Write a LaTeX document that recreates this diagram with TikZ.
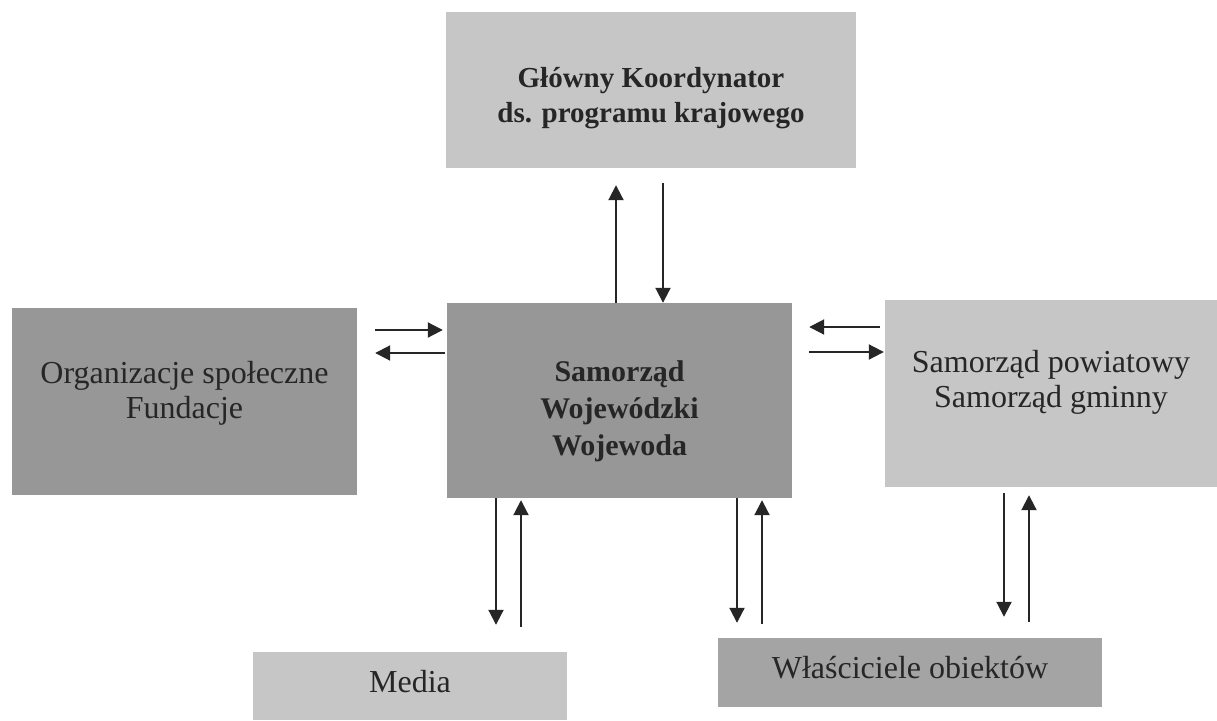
\documentclass[tikz,border=0pt]{standalone}
\usepackage{fontspec}
\setmainfont{Liberation Serif}
\usetikzlibrary{arrows.meta}
\definecolor{ink}{HTML}{262626}
\definecolor{darkbox}{HTML}{979797}
\definecolor{midbox}{HTML}{A4A4A4}
\definecolor{lightbox}{HTML}{C6C6C6}
\tikzset{
  box/.style={rectangle, draw=none, inner sep=0pt, align=center, text=ink,
    font=\fontsize{32}{35}\selectfont},
  boldbox/.style={box, font=\fontsize{30}{37}\selectfont\bfseries},
  arr/.style={draw=ink, line width=2pt, -{Triangle[length=15pt,width=15pt]}},
}
\begin{document}
\begin{tikzpicture}[x=1pt,y=1pt]
\fill[white] (0,0) rectangle (1217,-720);
\useasboundingbox (0,0) rectangle (1217,-720);

\node[boldbox, fill=lightbox, minimum width=410pt, minimum height=156pt,
  font=\fontsize{29}{35}\selectfont\bfseries, text height=64pt, text depth=0pt] (top) at (651,-90)
  {Główny Koordynator\\ds. programu krajowego};
\node[box, fill=darkbox, minimum width=345pt, minimum height=187pt,
  text height=33pt, text depth=0pt] (org) at (184.5,-401.5)
  {Organizacje społeczne\\Fundacje};
\node[boldbox, fill=darkbox, minimum width=345pt, minimum height=195pt,
  text height=109pt, text depth=0pt] (cen) at (619.5,-400.5)
  {Samorząd\\Wojewódzki\\Wojewoda};
\node[box, fill=lightbox, minimum width=332pt, minimum height=187pt,
  text height=27pt, text depth=0pt] (pow) at (1051,-393.5)
  {Samorząd powiatowy\\Samorząd gminny};
\node[box, fill=lightbox, minimum width=314pt, minimum height=68pt,
  text height=22pt, text depth=10pt] (media) at (410,-686) {Media};
\node[box, fill=midbox, minimum width=384pt, minimum height=69pt,
  text height=22pt, text depth=11pt] (wlasc) at (910,-672.5)
  {Właściciele obiektów};

% top
\draw[arr, shorten >=17pt] ([xshift=-3.5pt]cen.north) -- ([xshift=-35pt]top.south);
\draw[arr, shorten <=15pt] ([xshift=12pt]top.south) -- ([xshift=43.5pt]cen.north);
% left
\draw[arr, shorten <=18pt, shorten >=4pt] ([yshift=71.5pt]org.east) -- ([yshift=70.5pt]cen.west);
\draw[arr, shorten <=2pt, shorten >=18pt] ([yshift=47.5pt]cen.west) -- ([yshift=48.5pt]org.east);
% right
\draw[arr, shorten <=5pt, shorten >=17pt] ([yshift=66.5pt]pow.west) -- ([yshift=73.5pt]cen.east);
\draw[arr, shorten <=17pt, shorten >=1pt] ([yshift=48.5pt]cen.east) -- ([yshift=41.5pt]pow.west);
% bottom: media
\draw[arr, shorten >=27pt] ([xshift=-123.5pt]cen.south) -- ([xshift=86pt]media.north);
\draw[arr, shorten <=25pt, shorten >=2pt] ([xshift=111pt]media.north) -- ([xshift=-98.5pt]cen.south);
% bottom: owners
\draw[arr, shorten >=15pt] ([xshift=117.5pt]cen.south) -- ([xshift=-173pt]wlasc.north);
\draw[arr, shorten <=14pt, shorten >=2pt] ([xshift=-148pt]wlasc.north) -- ([xshift=142.5pt]cen.south);
% right box to owners
\draw[arr, shorten <=6pt, shorten >=21pt] ([xshift=-47pt]pow.south) -- ([xshift=94pt]wlasc.north);
\draw[arr, shorten <=16pt, shorten >=8pt] ([xshift=119pt]wlasc.north) -- ([xshift=-22pt]pow.south);
\end{tikzpicture}
\end{document}
